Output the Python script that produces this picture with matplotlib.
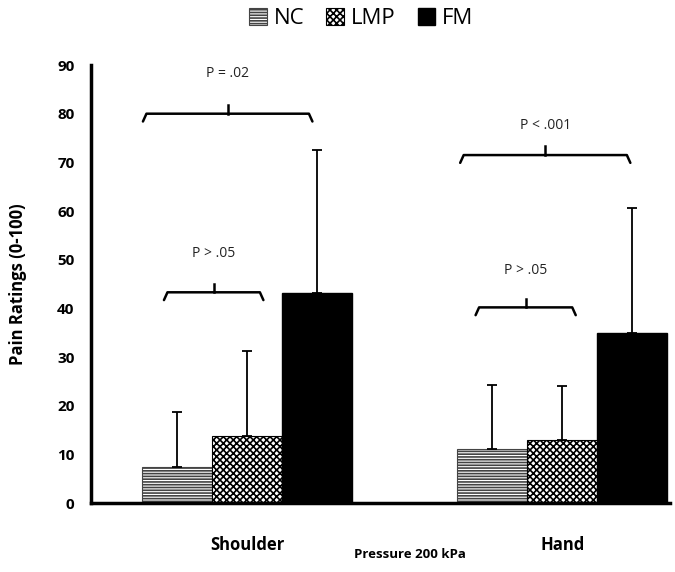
import matplotlib
matplotlib.use("Agg")
import matplotlib.pyplot as plt
import numpy as np

# data
groups = ["Shoulder", "Hand"]
series = ["NC", "LMP", "FM"]
nc_mean = [7.4, 11.1]
nc_sd = [11.3, 13.1]
lmp_mean = [13.8, 12.9]
lmp_sd = [17.4, 11.1]
fm_mean = [43.1, 34.9]
fm_sd = [29.4, 25.7]

# significance brackets: (group index, x start offset, x end offset, y, label, label y)
brackets = [
    (0, -1.49, 0.93, 80.0, "P = .02", 88.3),
    (0, -1.19, 0.23, 43.3, "P > .05", 51.3),
    (1, -1.46, 0.97, 71.5, "P < .001", 77.6),
    (1, -1.24, 0.19, 40.2, "P > .05", 47.8),
]

plt.rcParams["font.family"] = ["Open Sans", "DejaVu Sans"]
plt.rcParams["hatch.linewidth"] = 1.2

fig = plt.figure(figsize=(6.75, 5.72), dpi=100)
ax = fig.add_axes([0.135, 0.1206, 0.858, 0.7657])

x = np.array([0.0, 4.5])
w = 1.0

b1 = ax.bar(x - w, nc_mean, w, color="white", edgecolor="#444444", hatch="------",
            linewidth=0.8, label="NC")
b2 = ax.bar(x, lmp_mean, w, color="white", edgecolor="black", hatch="xxxxx",
            linewidth=0.8, label="LMP")
b3 = ax.bar(x + w, fm_mean, w, color="black", edgecolor="black", label="FM")

# one-sided error bars (upper only)
for xs, m, s in [(x - w, nc_mean, nc_sd), (x, lmp_mean, lmp_sd), (x + w, fm_mean, fm_sd)]:
    ax.errorbar(xs, m, yerr=[np.zeros(len(s)), s], fmt="none", ecolor="black",
                elinewidth=1.3, capsize=3.5, capthick=1.3)

# brackets with hooked ends
for gi, x0, x1, yb, lab, yt in brackets:
    xa, xb = x[gi] + x0, x[gi] + x1
    xm = (xa + xb) / 2
    ax.plot([xa, xa + 0.05, xb - 0.05, xb], [yb - 1.6, yb, yb, yb - 1.6],
            color="black", lw=1.8, solid_capstyle="round")
    ax.plot([xm, xm], [yb, yb + 1.8], color="black", lw=1.8)
    ax.text(xm, yt, lab, ha="center", va="center", fontsize=10, color="#222222")

ax.set_xlim(-2.23, 6.04)
ax.set_ylim(0, 90)
ax.set_yticks(np.arange(0, 91, 10))
ax.set_xticks(x)
ax.set_xticklabels(groups, fontsize=12, fontweight="bold")
ax.tick_params(axis="x", length=0, pad=24)
ax.tick_params(axis="y", length=0, pad=12, labelsize=11)
for t in ax.get_yticklabels():
    t.set_fontweight("bold")

for side in ["top", "right"]:
    ax.spines[side].set_visible(False)
ax.spines["left"].set_linewidth(2.5)
ax.spines["bottom"].set_linewidth(2.5)

ax.set_ylabel("Pain Ratings (0-100)", fontsize=12, fontweight="bold", labelpad=22)
fig.text(0.607, 0.03, "Pressure 200 kPa", ha="center", va="center",
         fontsize=9.5, fontweight="bold")

fig.legend(handles=[b1, b2, b3], labels=series, loc="center",
           bbox_to_anchor=(0.535, 0.968), ncol=3, frameon=False, fontsize=16,
           handlelength=0.8, handleheight=0.8, handletextpad=0.3, columnspacing=1.0)

fig.savefig("out.png", dpi=100)
